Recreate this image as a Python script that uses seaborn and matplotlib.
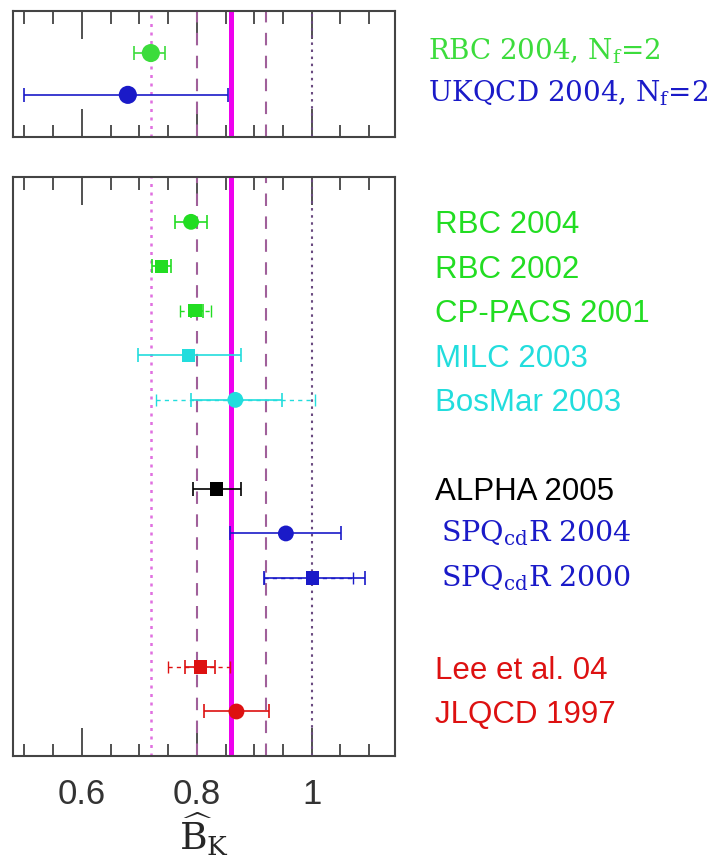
import numpy as np
import pandas as pd
import matplotlib
matplotlib.use("Agg")
import matplotlib.pyplot as plt
import matplotlib.transforms as mtransforms
import seaborn as sns

# top panel (N_f = 2)
top_labels = ["RBC 2004, N$_\\mathregular{f}$=2", "UKQCD 2004, N$_\\mathregular{f}$=2"]
top_rows = [1, 2]
top_vals = [0.72, 0.68]
top_lo = [0.69, 0.50]
top_hi = [0.745, 0.855]
top_colors = ["#3cdc3c", "#1a1ac8"]

# bottom panel (quenched)
names = ["RBC 2004", "RBC 2002", "CP-PACS 2001", "MILC 2003", "BosMar 2003",
         "ALPHA 2005", "SPQ$_\\mathregular{cd}$R 2004", "SPQ$_\\mathregular{cd}$R 2000",
         "Lee et al. 04", "JLQCD 1997"]
rows = [1, 2, 3, 4, 5, 7, 8, 9, 11, 12]
vals = [0.790, 0.738, 0.797, 0.786, 0.867, 0.834, 0.955, 1.002, 0.807, 0.869]
stat_lo = [0.762, 0.722, 0.790, 0.698, 0.790, 0.793, 0.858, 0.917, 0.780, 0.812]
stat_hi = [0.817, 0.755, 0.810, 0.877, 0.948, 0.877, 1.051, 1.093, 0.831, 0.926]
sys_lo = [np.nan, np.nan, 0.771, np.nan, 0.729, np.nan, np.nan, 0.917, 0.750, np.nan]
sys_hi = [np.nan, np.nan, 0.824, np.nan, 1.005, np.nan, np.nan, 1.072, 0.858, np.nan]
shapes = ["o", "s", "s", "s", "o", "s", "o", "s", "s", "o"]
colors = ["#22dd22", "#22dd22", "#22dd22", "#22dddd", "#22dddd",
          "#000000", "#1a1ac8", "#1a1ac8", "#dd1111", "#dd1111"]
serif_label = [False, False, False, False, False, False, True, True, False, False]

# world average band
avg = 0.86
inner = [0.80, 0.92]
outer = [0.72, 1.00]

df = pd.DataFrame(dict(name=names, row=rows, val=vals, lo=stat_lo, hi=stat_hi,
                       slo=sys_lo, shi=sys_hi, shape=shapes, color=colors))
dtop = pd.DataFrame(dict(name=top_labels, row=top_rows, val=top_vals,
                         lo=top_lo, hi=top_hi, color=top_colors))

sns.set_style("ticks")
plt.rcParams['font.family'] = ['Liberation Sans', 'DejaVu Sans']
plt.rcParams['mathtext.fontset'] = 'dejavuserif'

fig = plt.figure(figsize=(7.17, 8.65), dpi=100)
ax_top = fig.add_axes([0.018, 0.842, 0.533, 0.145])
ax_bot = fig.add_axes([0.018, 0.126, 0.533, 0.669])


def band(ax):
    ax.axvline(outer[0], color="#e070e0", ls=(0, (1.2, 2.2)), lw=1.8, zorder=1)
    ax.axvline(outer[1], color="#6a4a80", ls=(0, (1.2, 2.2)), lw=1.5, zorder=1)
    for v in inner:
        ax.axvline(v, color="#a0609a", ls=(0, (6, 5)), lw=1.5, zorder=1)
    ax.axvline(avg, color="#ee00ee", lw=3.6, zorder=2)


def style(ax, nrows, labels_bottom):
    ax.set_xlim(0.48, 1.145)
    ax.set_ylim(nrows, 0)
    ax.set_yticks([])
    ax.set_xticks([0.6, 0.8, 1.0])
    ax.set_xticks(np.arange(0.5, 1.101, 0.05), minor=True)
    ax.tick_params(axis="x", which="both", direction="in", top=True, bottom=True,
                   color="#333333", width=1.2)
    ax.tick_params(axis="x", which="major", length=20, pad=16, labelsize=25,
                   labelbottom=labels_bottom, labelcolor="#333333")
    ax.tick_params(axis="x", which="minor", length=9)
    for s in ax.spines.values():
        s.set_linewidth(1.5)
        s.set_color("#444444")
    ax.set_xlabel("")
    ax.set_ylabel("")
    if ax.get_legend():
        ax.get_legend().remove()


# top panel
band(ax_top)
for _, r in dtop.iterrows():
    ax_top.errorbar(r.val, r.row, xerr=[[r.val - r.lo], [r.hi - r.val]], fmt="none",
                    ecolor=r.color, elinewidth=1.2, capsize=5, capthick=1.2, zorder=3)
sns.scatterplot(data=dtop, x="val", y="row", hue="name", palette=top_colors,
                s=170, marker="o", edgecolor="none", ax=ax_top, zorder=4, legend=False)
style(ax_top, 3, False)
tr = mtransforms.blended_transform_factory(ax_top.transAxes, ax_top.transData)
for _, r in dtop.iterrows():
    ax_top.text(1.086, r.row - 0.05, r["name"], transform=tr, color=r.color,
                fontsize=20, family="DejaVu Serif", va="center", ha="left")

# bottom panel
band(ax_bot)
for _, r in df.iterrows():
    if not np.isnan(r.slo):
        ax_bot.errorbar(r.val, r.row, xerr=[[r.val - r.slo], [r.shi - r.val]], fmt="none",
                        ecolor=r.color, elinewidth=1.0, capsize=4, capthick=1.0,
                        ls="none", zorder=3)[2][0].set_linestyle((0, (3, 3)))
    ax_bot.errorbar(r.val, r.row, xerr=[[r.val - r.lo], [r.hi - r.val]], fmt="none",
                    ecolor=r.color, elinewidth=1.2, capsize=5, capthick=1.2, zorder=3)
for shp, sz in [("o", 130), ("s", 90)]:
    sub = df[df["shape"] == shp]
    sns.scatterplot(data=sub, x="val", y="row", hue="name", palette=list(sub["color"]),
                    s=sz, marker=shp, edgecolor="none", ax=ax_bot, zorder=4, legend=False)
style(ax_bot, 13, True)
ax_bot.set_xticklabels(["0.6", "0.8", "1"])
ax_bot.set_xlabel(r"$\widehat{\mathrm{B}}_{\mathrm{K}}$", fontsize=27, labelpad=0)
trb = mtransforms.blended_transform_factory(ax_bot.transAxes, ax_bot.transData)
for r, ser in zip(df.itertuples(), serif_label):
    if ser:
        ax_bot.text(1.12, r.row, r.name, transform=trb, color=r.color, fontsize=20.5,
                    family="DejaVu Serif", va="center", ha="left")
    else:
        ax_bot.text(1.105, r.row + 0.08, r.name, transform=trb, color=r.color,
                    fontsize=22.5, va="center", ha="left")

fig.savefig("out.png", dpi=100)
